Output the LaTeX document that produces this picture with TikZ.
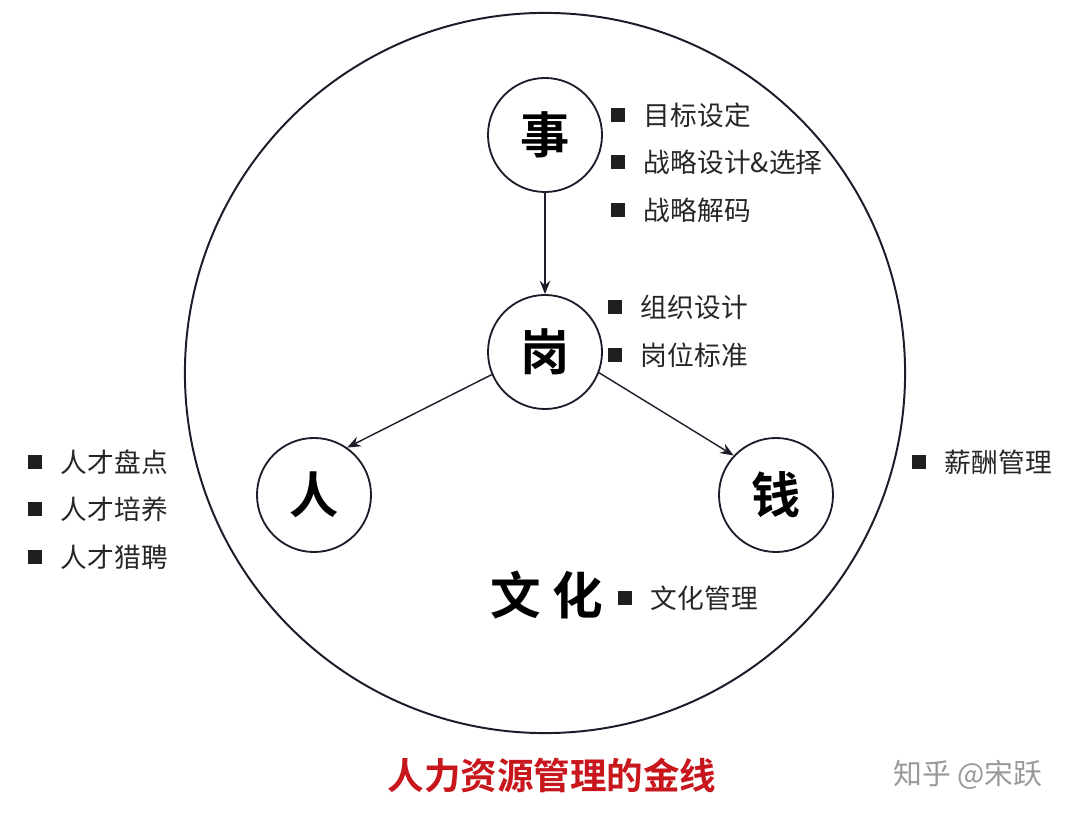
\documentclass[tikz,border=0pt]{standalone}
\usepackage{fontspec}
\setmainfont{Noto Sans CJK SC}[BoldFont={Noto Sans CJK SC Bold}]
\usetikzlibrary{arrows.meta,positioning}
\definecolor{inkline}{HTML}{1C1C2A}
\definecolor{titlered}{HTML}{C8161D}
\tikzset{
  keynode/.style={circle,draw=inkline,line width=1.3pt,minimum size=2.85cm,inner sep=0pt,
    font=\fontsize{35}{35}\selectfont\bfseries},
  sq/.style={fill=black!88,minimum size=0.37cm,inner sep=0pt},
  item/.style={anchor=west,inner sep=0pt,font=\fontsize{19}{19}\selectfont,text=black!85},
}
\begin{document}
\begin{tikzpicture}[x=0.025cm,y=-0.025cm,>={Stealth[length=9.5pt,width=7.5pt]}]
  \useasboundingbox (0,0) rectangle (1080,819);
  \draw[inkline,line width=1.4pt] (545,373) circle (9cm);

  \node[keynode] (shi) at (545,135) {事};
  \node[keynode] (gang) at (545,352) {岗};
  \node[keynode] (ren) at (314,495) {人};
  \node[keynode] (qian) at (776,495) {钱};
  \node[font=\fontsize{36}{36}\selectfont\bfseries] (wenhua) at (547,595) {文\hspace{8pt}化};

  \draw[->,inkline,line width=1pt] (shi) -- (gang);
  \draw[->,inkline,line width=1pt] (gang.203) -- (ren.55);
  \draw[->,inkline,line width=1pt] (gang.339) -- (qian.137);

  % 事
  \node[sq] (s1) at (618,115) {};
  \node[item,right=0.45cm of s1] (t1) {目标设定};
  \node[sq] (s2) at (618,162) {};
  \node[item,right=0.45cm of s2] (t2) {战略设计\&选择};
  \node[sq] (s3) at (618,210) {};
  \node[item,right=0.45cm of s3] (t3) {战略解码};
  % 岗
  \node[sq] (s4) at (615,307) {};
  \node[item,right=0.45cm of s4] (t4) {组织设计};
  \node[sq] (s5) at (615,355) {};
  \node[item,right=0.45cm of s5] (t5) {岗位标准};
  % 人
  \node[sq] (s6) at (35,462) {};
  \node[item,right=0.45cm of s6] (t6) {人才盘点};
  \node[sq] (s7) at (35,509) {};
  \node[item,right=0.45cm of s7] (t7) {人才培养};
  \node[sq] (s8) at (35,557) {};
  \node[item,right=0.45cm of s8] (t8) {人才猎聘};
  % 钱
  \node[sq] (s9) at (919,462) {};
  \node[item,right=0.45cm of s9] (t9) {薪酬管理};
  % 文化
  \node[sq] (s10) at (625,598) {};
  \node[item,right=0.45cm of s10] (t10) {文化管理};

  \node[font=\fontsize{26}{26}\selectfont\bfseries,text=titlered] (title) at (552,775) {人力资源管理的金线};
  \node[font=\fontsize{20.5}{20.5}\selectfont,text=black!40] (mark) at (968,775) {知乎 @宋跃};
\end{tikzpicture}
\end{document}
